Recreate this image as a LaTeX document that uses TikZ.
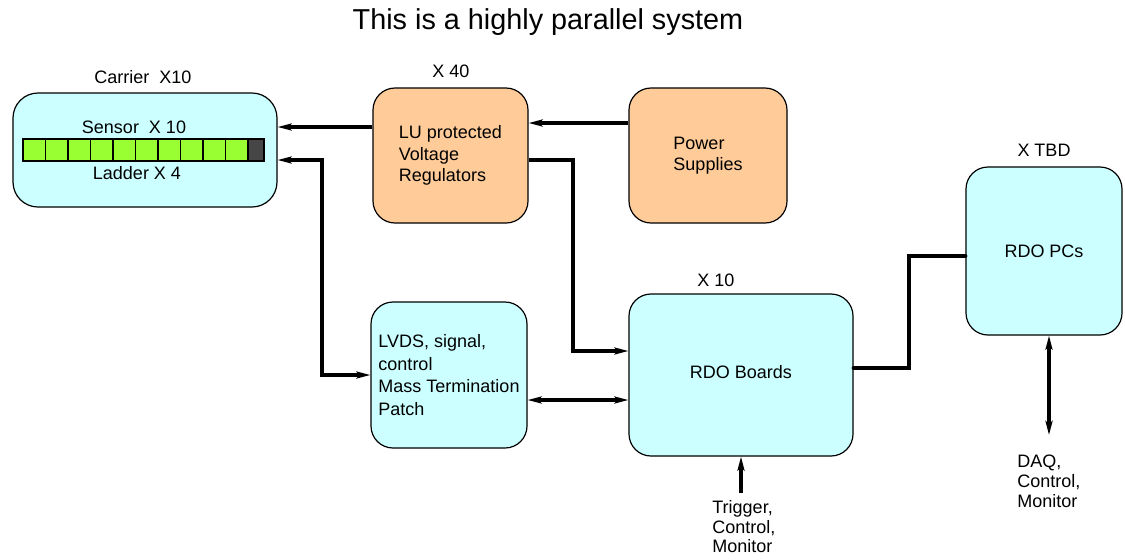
\documentclass[tikz,border=0pt]{standalone}
\usepackage{fontspec}
\setmainfont{Liberation Sans}
\usetikzlibrary{arrows.meta, positioning, calc}
\definecolor{cyanbox}{RGB}{204,255,255}
\definecolor{orangebox}{RGB}{255,204,153}
\definecolor{ladgreen}{RGB}{153,255,51}
\definecolor{ladgrey}{RGB}{70,70,70}

\begin{document}
\begin{tikzpicture}[x=0.5pt, y=-0.5pt,
    box/.style={draw, line width=0.6pt, rounded corners=11pt, inner sep=0pt, align=left,
        font=\fontsize{9}{10.6}\selectfont},
    lbl/.style={inner sep=0pt, align=left, font=\fontsize{9}{10}\selectfont},
    wire/.style={line width=2pt},
    arr/.style={wire, -{Stealth[length=7pt, width=3.5pt, inset=1.5pt]}},
    darr/.style={wire, {Stealth[length=7pt, width=3.5pt, inset=1.5pt]}-{Stealth[length=7pt, width=3.5pt, inset=1.5pt]}}]
    \useasboundingbox (0,0) rectangle (1125,559);

    % title
    \node[font=\fontsize{14.4}{17}\selectfont] (title) at (548,22) {This is a highly parallel system};

    % carrier with the ladder
    \node[box, fill=cyanbox, minimum width=132pt, minimum height=57pt, rounded corners=12.5pt] (carrier) at (145,150) {};
    \node[lbl] (carlbl) at (143,77) {Carrier\ \ X10};
    \node[lbl] (sensor) at (134,127) {Sensor\ \ X 10};
    \foreach \i in {0,...,9}
        \draw[fill=ladgreen, line width=0.8pt] (23+\i*22.5,139) rectangle ++(22.5,22);
    \draw[fill=ladgrey, line width=0.8pt] (248,139) rectangle (264,161); % dark end cell
    \node[lbl] (ladder) at (137,173) {Ladder X 4};

    % regulators and power
    \node[box, fill=orangebox, minimum width=77.5pt, minimum height=67.5pt] (lu) at (450.5,155.5) {LU protected\\Voltage\\Regulators};
    \node[lbl] (lulbl) at (451,71) {X 40};
    \node[box, fill=orangebox, minimum width=79pt, minimum height=67.5pt] (ps) at (708,155.5) {Power\\Supplies};

    % patch, boards, PCs
    \node[box, fill=cyanbox, minimum width=78pt, minimum height=73pt, font=\fontsize{9}{11.2}\selectfont] (patch) at (449,375) {LVDS, signal,\\control\\Mass Termination\\Patch};
    \node[box, fill=cyanbox, minimum width=112pt, minimum height=81pt] (rdo) at (741,375) {\raisebox{3.5pt}{RDO Boards}};
    \node[lbl] (rdolbl) at (716,280) {X 10};
    \node[box, fill=cyanbox, minimum width=78pt, minimum height=84pt] (pcs) at (1044,251) {RDO PCs};
    \node[lbl] (pcslbl) at (1044,150) {X TBD};

    % outside connections
    \coordinate (trigtop) at (741,493);
    \node[lbl, anchor=north west, font=\fontsize{9}{9.8}\selectfont] (trig) at (712,500) {Trigger,\\Control,\\Monitor};
    \coordinate (daqtop) at (1049,435);
    \node[lbl, anchor=north west, font=\fontsize{9}{9.8}\selectfont] (daq) at (1017,455) {DAQ,\\Control,\\Monitor};

    % connectors
    \draw[arr] (ps.west |- 0,123) -- (lu.east |- 0,123);
    \draw[arr] (lu.west |- 0,127) -- (carrier.east |- 0,127);
    \draw[arr] (lu.east |- 0,160) -- (573,160) -- (573,351) -- (rdo.west |- 0,351);
    \draw[darr] (carrier.east |- 0,160) -- (322,160) -- (322,375) -- (patch.west);
    \draw[darr] (patch.east |- 0,400) -- (rdo.west |- 0,400);
    \draw[wire, line cap=round] (rdo.east |- 0,368) -- (909,368) -- (909,256) -- (pcs.west |- 0,256);
    \draw[arr] (trigtop) -- (rdo.south -| trigtop);
    \draw[darr] (pcs.south -| daqtop) -- (daqtop);

\end{tikzpicture}
\end{document}
